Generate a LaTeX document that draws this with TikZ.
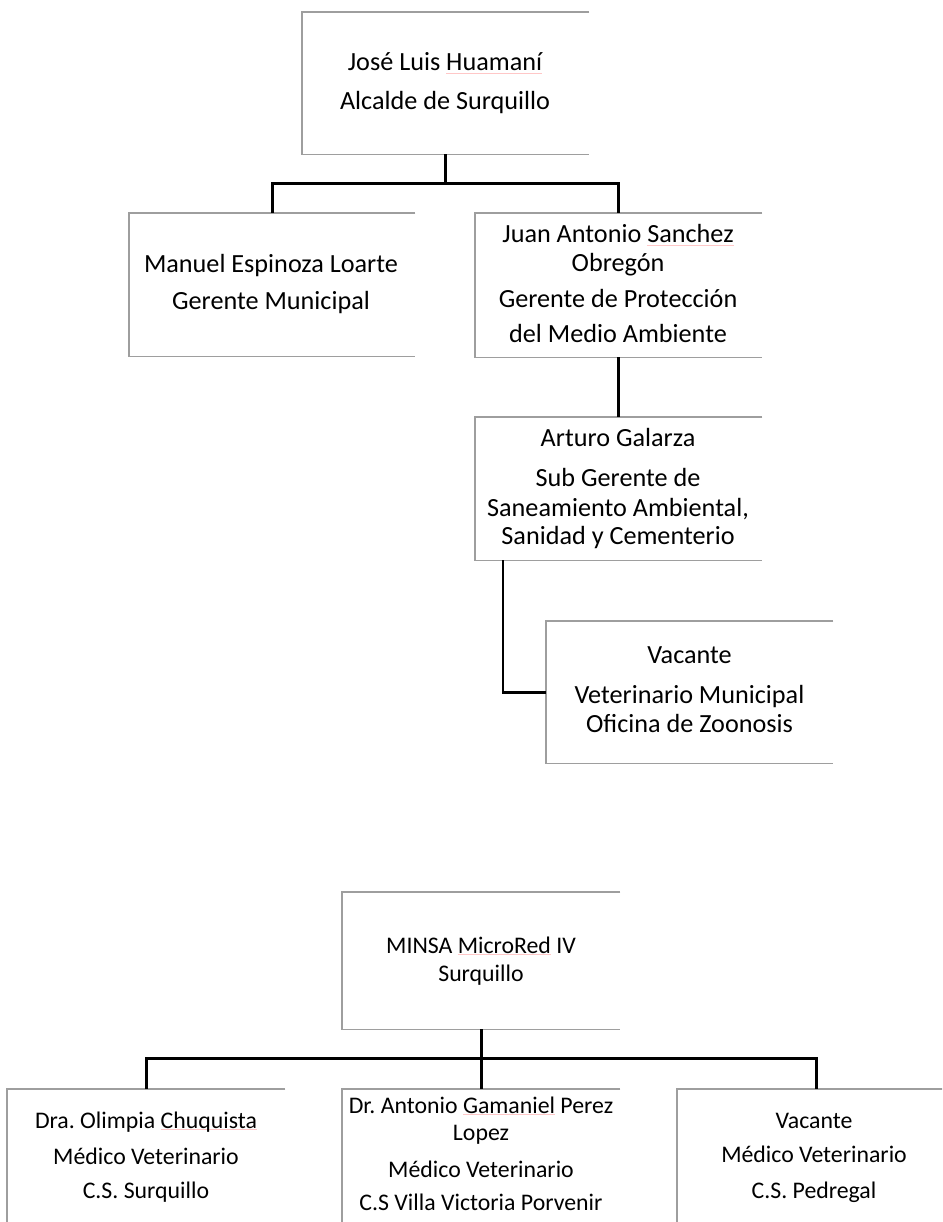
\documentclass[tikz,border=0pt]{standalone}
\usepackage{fontspec}
\setmainfont{Carlito}
\newlength\spl
\newcommand\spellerr[1]{\settowidth{\spl}{#1}\rlap{\textcolor{red!22}{\rule[-0.1em]{\spl}{0.04em}}}#1}
\frenchspacing
\begin{document}
\begin{tikzpicture}[x=1pt,y=-1pt,
  box/.style={rectangle,draw=none,anchor=north west,inner sep=0pt},
  border/.style={draw=black!38,line width=1.2pt},
  conn/.style={draw=black,line width=2.6pt},
  txt/.style={anchor=base,inner sep=0pt,font=\fontsize{26.2}{30}\selectfont},
  txtb/.style={anchor=base,inner sep=0pt,font=\fontsize{23.8}{28}\selectfont}]
\useasboundingbox (0,0) rectangle (942,1222);
\clip (0,0) rectangle (942,1222);
% boxes
\node[box,minimum width=287pt,minimum height=142pt] (top) at (302,12) {};
\node[box,minimum width=286pt,minimum height=143pt] (man) at (129,213) {};
\node[box,minimum width=287pt,minimum height=144pt] (juan) at (475,213) {};
\node[box,minimum width=287pt,minimum height=143pt] (art) at (475,417) {};
\node[box,minimum width=287pt,minimum height=142pt] (vac) at (546,621) {};
\node[box,minimum width=278pt,minimum height=137pt] (minsa) at (342,892) {};
\node[box,minimum width=278pt,minimum height=150pt] (olim) at (7,1089) {};
\node[box,minimum width=278pt,minimum height=150pt] (anto) at (342,1089) {};
\node[box,minimum width=278pt,minimum height=150pt] (vacb) at (677,1089) {};
\foreach \b in {top,man,juan,art,vac,minsa,olim,anto,vacb}
  \draw[border] (\b.north east) -- (\b.north west) -- (\b.south west) -- (\b.south east);
% connectors
\draw[conn] (top.south) -- ++(0,29) coordinate (tbar);
\draw[conn] (man.north) |- (tbar) -| (juan.north);
\draw[conn] (juan.south) -- (art.north);
\draw[conn] ([xshift=28pt]art.south west) |- (vac.west);
\draw[conn] (minsa.south) -- ++(0,29) coordinate (mbar);
\draw[conn] (olim.north) |- (mbar) -| (vacb.north);
\draw[conn] (mbar) -- (anto.north);
% texts
\node[txt] (top1) at (445,71) {José Luis \spellerr{Huamaní}};
\node[txt] (top2) at (445,110) {Alcalde de Surquillo};
\node[txt] (man1) at (271,273) {Manuel Espinoza Loarte};
\node[txt] (man2) at (271,309) {Gerente Municipal};
\node[txt] (juan1) at (618,243) {Juan Antonio \spellerr{Sanchez}};
\node[txt] (juan2) at (618,272) {Obregón};
\node[txt] (juan3) at (618,308) {Gerente de Protección};
\node[txt] (juan4) at (618,342) {del Medio Ambiente};
\node[txt] (art1) at (618,446) {Arturo Galarza};
\node[txt] (art2) at (618,486) {Sub Gerente de};
\node[txt] (art3) at (618,516) {Saneamiento Ambiental,};
\node[txt] (art4) at (618,544) {Sanidad y Cementerio};
\node[txt] (vac1) at (689.5,663) {Vacante};
\node[txt] (vac2) at (689.5,703) {Veterinario Municipal};
\node[txt] (vac3) at (689.5,732) {Oficina de Zoonosis};
\node[txtb] (minsa1) at (481,953) {MINSA \spellerr{MicroRed} IV};
\node[txtb] (minsa2) at (481,981) {Surquillo};
\node[txtb] (olim1) at (146,1128) {Dra. Olimpia \spellerr{Chuquista}};
\node[txtb] (olim2) at (146,1164) {Médico Veterinario};
\node[txtb] (olim3) at (146,1198) {C.S. Surquillo};
\node[txtb] (anto1) at (481,1113) {Dr. Antonio \spellerr{Gamaniel} Perez};
\node[txtb] (anto2) at (481,1140) {Lopez};
\node[txtb] (anto3) at (481,1177) {Médico Veterinario};
\node[txtb] (anto4) at (481,1210) {C.S Villa Victoria Porvenir};
\node[txtb] (vacb1) at (814,1128) {Vacante};
\node[txtb] (vacb2) at (814,1162) {Médico Veterinario};
\node[txtb] (vacb3) at (814,1198) {C.S. Pedregal};
\end{tikzpicture}
\end{document}
